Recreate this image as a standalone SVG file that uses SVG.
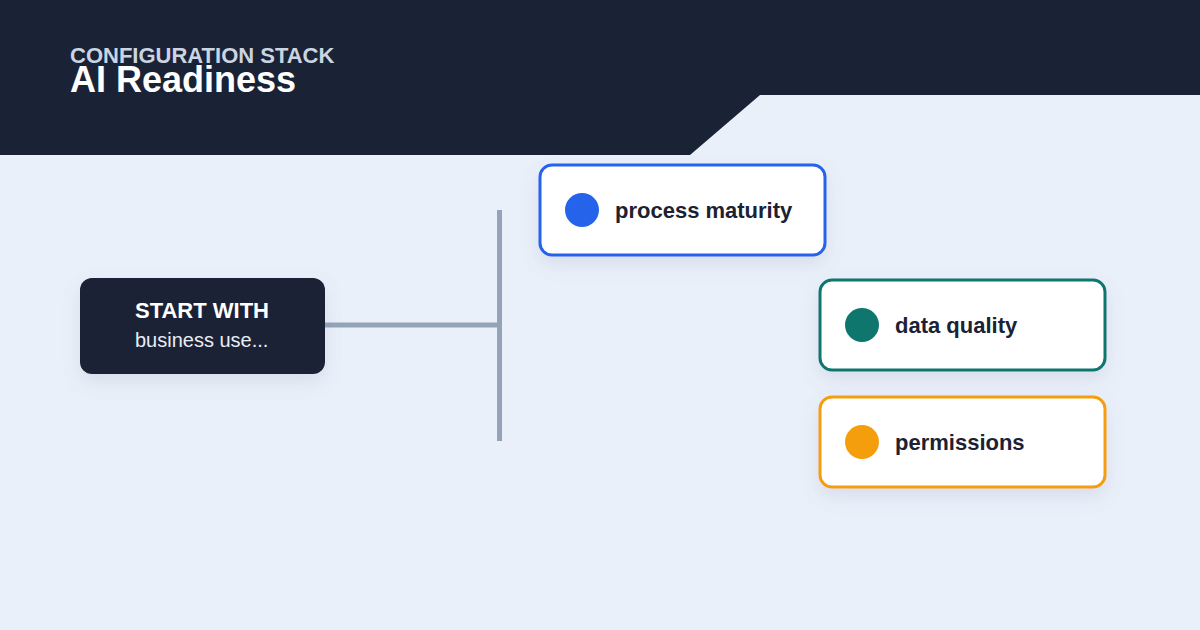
<svg xmlns="http://www.w3.org/2000/svg" width="1200" height="630" viewBox="0 0 1200 630">
  <defs>
    <filter id="shadow" x="-20%" y="-20%" width="140%" height="160%">
      <feDropShadow dx="0" dy="8" stdDeviation="9" flood-color="#64748b" flood-opacity="0.14"/>
    </filter>
    <style>
      .card { fill: #ffffff; stroke-width: 3; filter: url(#shadow); }
      .label { font-family: "Liberation Sans", Arial, sans-serif; font-weight: 700; font-size: 22px; fill: #1b2234; }
      .conn { stroke: #94a3b8; stroke-width: 5; fill: none; }
    </style>
  </defs>
  <rect width="1200" height="630" fill="#eaf0fa"/>
  <polygon points="0,0 1200,0 1200,95 760,95 690,155 0,155" fill="#1a2236"/>
  <text x="70" y="63" font-family="Liberation Sans, Arial, sans-serif" font-weight="700" font-size="22" fill="#cbd5e1">CONFIGURATION STACK</text>
  <text x="70" y="92" font-family="Liberation Sans, Arial, sans-serif" font-weight="700" font-size="36" fill="#ffffff">AI Readiness</text>

  <g id="connectors">
    <line class="conn" x1="325" y1="325" x2="500" y2="325"/>
    <line class="conn" x1="499.5" y1="210" x2="499.5" y2="441"/>
  </g>

  <g id="start">
    <rect x="80" y="278" width="245" height="96" rx="12" fill="#1a2234" filter="url(#shadow)"/>
    <text x="135" y="318" font-family="Liberation Sans, Arial, sans-serif" font-weight="700" font-size="22" fill="#ffffff">START WITH</text>
    <text x="135" y="347" font-family="Liberation Sans, Arial, sans-serif" font-size="20" fill="#e8edf5">business use...</text>
  </g>

  <g id="process-maturity">
    <rect class="card" x="540" y="165" width="285" height="90" rx="12" stroke="#2563eb"/>
    <circle cx="582" cy="210" r="17" fill="#2563eb"/>
    <text class="label" x="615" y="218">process maturity</text>
  </g>

  <g id="data-quality">
    <rect class="card" x="820" y="280" width="285" height="90" rx="12" stroke="#0f766e"/>
    <circle cx="862" cy="325" r="17" fill="#0f766e"/>
    <text class="label" x="895" y="333">data quality</text>
  </g>

  <g id="permissions">
    <rect class="card" x="820" y="397" width="285" height="90" rx="12" stroke="#f59e0b"/>
    <circle cx="862" cy="442" r="17" fill="#f59e0b"/>
    <text class="label" x="895" y="450">permissions</text>
  </g>
</svg>
